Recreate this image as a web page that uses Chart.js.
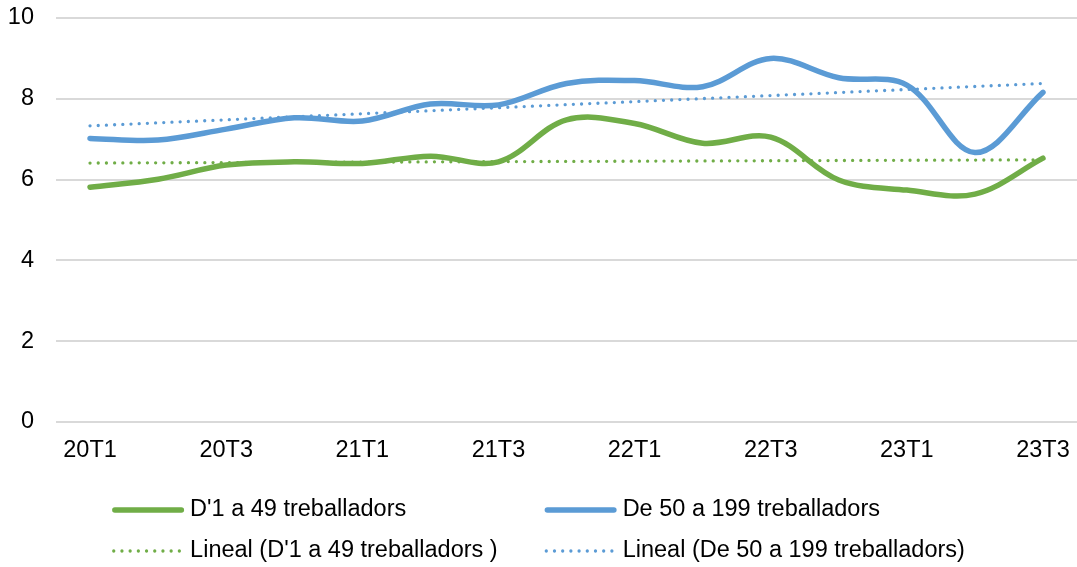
<!DOCTYPE html>
<html>
<head>
<meta charset="utf-8">
<script src="https://cdn.jsdelivr.net/npm/chart.js@4.4.1/dist/chart.umd.min.js"></script>
<style>
  html, body { margin: 0; padding: 0; background: #ffffff; }
  #wrap { position: relative; width: 1077px; height: 567px; }
  canvas { display: block; }
</style>
</head>
<body>
<div id="wrap"><canvas id="c" width="1077" height="567"></canvas></div>
<script>
// ---- data ----
const categories = ['20T1','20T2','20T3','20T4','21T1','21T2','21T3','21T4','22T1','22T2','22T3','22T4','23T1','23T2','23T3'];
const smallFirms = [5.81, 6.01, 6.36, 6.44, 6.40, 6.58, 6.44, 7.48, 7.39, 6.90, 7.05, 5.99, 5.74, 5.64, 6.53];
const mediumFirms = [7.02, 6.98, 7.25, 7.53, 7.45, 7.87, 7.85, 8.38, 8.45, 8.30, 9.00, 8.52, 8.34, 6.67, 8.16];
const trendEnds = ['20T1', '23T3'];
const smallTrend = [6.41, 6.49];
const mediumTrend = [7.33, 8.38];
const yTicks = [0, 2, 4, 6, 8, 10];
const seriesNames = ["D'1 a 49 treballadors", 'De 50 a 199 treballadors', "Lineal (D'1 a 49 treballadors )", 'Lineal (De 50 a 199 treballadors)'];

const GREEN = '#70ad47';
const BLUE = '#5b9bd5';
const FONT = "'Liberation Sans', Arial, sans-serif";
const FSIZE = 23.5;

const toPoints = (xs, ys) => xs.map((x, i) => ({ x: x, y: ys[i] }));

const legendPlugin = {
  id: 'gridLegend',
  afterDraw(chart) {
    const ctx = chart.ctx;
    const ds = chart.data.datasets;
    const sampleW = 72, gap = 6, colGap = 47;
    const rows = [510, 551];
    ctx.save();
    ctx.font = FSIZE + 'px ' + FONT;
    const w = ds.map(d => ctx.measureText(d.label).width);
    const col1 = sampleW + gap + Math.max(w[0], w[2]);
    const col2 = sampleW + gap + Math.max(w[1], w[3]);
    const total = col1 + colGap + col2;
    const x0 = (chart.width - total) / 2;
    const xs = [x0, x0 + col1 + colGap];
    [0, 1, 2, 3].forEach(i => {
      const d = ds[i];
      const cx = xs[i % 2];
      const cy = rows[Math.floor(i / 2)];
      ctx.beginPath();
      ctx.strokeStyle = d.borderColor;
      ctx.lineWidth = d.borderWidth;
      ctx.lineCap = 'round';
      ctx.setLineDash(d.borderDash || []);
      const inset = d.borderWidth / 2;
      ctx.moveTo(cx + inset, cy);
      ctx.lineTo(cx + sampleW - inset, cy);
      ctx.stroke();
      ctx.setLineDash([]);
      ctx.fillStyle = '#000000';
      ctx.textBaseline = 'middle';
      ctx.textAlign = 'left';
      ctx.fillText(d.label, cx + sampleW + gap, cy);
    });
    ctx.restore();
  }
};

new Chart(document.getElementById('c'), {
  type: 'line',
  data: {
    labels: categories,
    datasets: [
      { label: seriesNames[0], data: smallFirms, borderColor: GREEN, backgroundColor: GREEN, borderWidth: 5.5, borderCapStyle: 'round', pointRadius: 0, tension: 0.35, order: 2 },
      { label: seriesNames[1], data: mediumFirms, borderColor: BLUE, backgroundColor: BLUE, borderWidth: 5.5, borderCapStyle: 'round', pointRadius: 0, tension: 0.35, order: 2 },
      { label: seriesNames[2], data: toPoints(trendEnds, smallTrend), borderColor: GREEN, backgroundColor: GREEN, borderWidth: 3.3, borderCapStyle: 'round', borderDash: [0, 8.2], pointRadius: 0, tension: 0, order: 1 },
      { label: seriesNames[3], data: toPoints(trendEnds, mediumTrend), borderColor: BLUE, backgroundColor: BLUE, borderWidth: 3.3, borderCapStyle: 'round', borderDash: [0, 8.2], pointRadius: 0, tension: 0, order: 1 }
    ]
  },
  options: {
    responsive: false,
    animation: false,
    layout: { padding: { left: 8, top: 18, right: 0, bottom: 103 } },
    plugins: { legend: { display: false }, tooltip: { enabled: false } },
    scales: {
      x: {
        offset: true,
        grid: { display: false, drawTicks: false },
        border: { display: false },
        afterFit: (s) => { s.height = 42; s.paddingLeft = 0; s.paddingRight = 0; },
        ticks: {
          color: '#000000',
          font: { family: FONT, size: FSIZE },
          padding: 14,
          autoSkip: false,
          maxRotation: 0,
          callback: function (v, i) { return i % 2 === 0 ? categories[i] : ''; }
        }
      },
      y: {
        min: yTicks[0],
        max: yTicks[yTicks.length - 1],
        afterBuildTicks: (scale) => { scale.ticks = yTicks.map(v => ({ value: v })); },
        afterFit: (s) => { s.width = 48; s.paddingTop = 14; s.paddingBottom = 14; },
        grid: { color: '#d9d9d9', lineWidth: 2, drawTicks: false },
        border: { display: false },
        ticks: {
          color: '#000000',
          font: { family: FONT, size: FSIZE },
          padding: 22
        }
      }
    }
  },
  plugins: [legendPlugin]
});
</script>
</body>
</html>
